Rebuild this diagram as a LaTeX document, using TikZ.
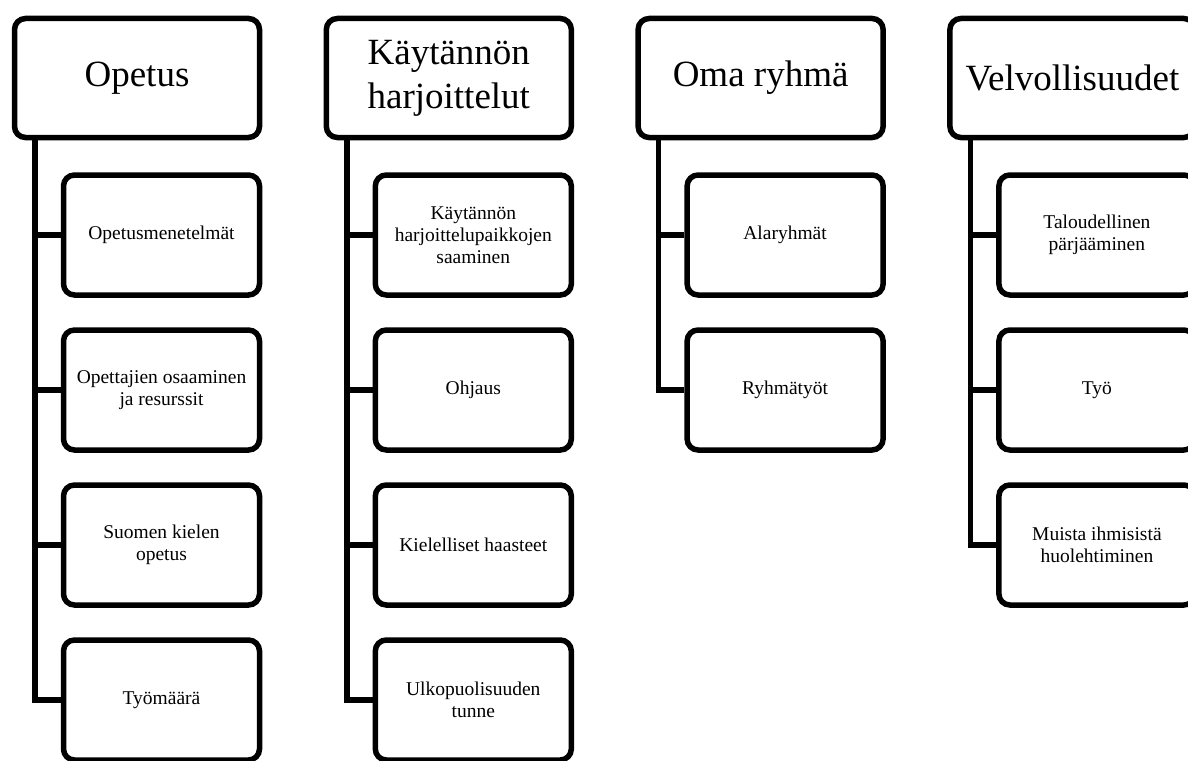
\documentclass[tikz,border=0pt]{standalone}
\usepackage{fontspec}
\setmainfont{Liberation Serif}
\usetikzlibrary{calc}

\tikzset{
  headbox/.style={draw=black, fill=white, line width=5.5pt, rounded corners=11pt,
    inner sep=0pt, minimum width=245pt, minimum height=119pt, align=center,
    font=\fontsize{37}{44}\selectfont},
  itembox/.style={draw=black, fill=white, line width=5.5pt, rounded corners=11pt,
    inner sep=0pt, minimum width=196pt, minimum height=120pt, align=center,
    font=\fontsize{19.5}{22}\selectfont},
  link/.style={draw=black, line width=5.5pt, line join=miter},
}

\begin{document}
\begin{tikzpicture}[x=1pt, y=-1pt]
  \useasboundingbox (0,0) rectangle (1188,760);

  % column 1
  \node[headbox] (h1) at (137,78) {Opetus};
  \node[itembox] (a1) at (161.5,235) {Opetusmenetelmät};
  \node[itembox] (a2) at (161.5,390) {Opettajien osaaminen\\ja resurssit};
  \node[itembox] (a3) at (161.5,545) {Suomen kielen\\opetus};
  \node[itembox] (a4) at (161.5,700) {Työmäärä};
  \coordinate (s1) at ($(h1.south west)+(23.2,0)$);
  \draw[link] (s1) |- (a4.west);
  \foreach \c in {a1,a2,a3} \draw[link] (s1 |- \c.west) -- (\c.west);

  % column 2
  \node[headbox] (h2) at (448.8,78) {Käytännön\\harjoittelut};
  \node[itembox] (b1) at (473.3,235) {Käytännön\\harjoittelupaikkojen\\saaminen};
  \node[itembox] (b2) at (473.3,390) {Ohjaus};
  \node[itembox] (b3) at (473.3,545) {Kielelliset haasteet};
  \node[itembox] (b4) at (473.3,700) {Ulkopuolisuuden\\tunne};
  \coordinate (s2) at ($(h2.south west)+(23.2,0)$);
  \draw[link] (s2) |- (b4.west);
  \foreach \c in {b1,b2,b3} \draw[link] (s2 |- \c.west) -- (\c.west);

  % column 3
  \node[headbox] (h3) at (760.6,78) {Oma ryhmä};
  \node[itembox] (c1) at (785.1,235) {Alaryhmät};
  \node[itembox] (c2) at (785.1,390) {Ryhmätyöt};
  \coordinate (s3) at ($(h3.south west)+(23.2,0)$);
  \draw[link] (s3) |- (c2.west);
  \draw[link] (s3 |- c1.west) -- (c1.west);

  % column 4
  \node[headbox] (h4) at (1072.4,78) {Velvollisuudet};
  \node[itembox] (d1) at (1096.9,235) {Taloudellinen\\pärjääminen};
  \node[itembox] (d2) at (1096.9,390) {Työ};
  \node[itembox] (d3) at (1096.9,545) {Muista ihmisistä\\huolehtiminen};
  \coordinate (s4) at ($(h4.south west)+(23.2,0)$);
  \draw[link] (s4) |- (d3.west);
  \foreach \c in {d1,d2} \draw[link] (s4 |- \c.west) -- (\c.west);
\end{tikzpicture}
\end{document}
